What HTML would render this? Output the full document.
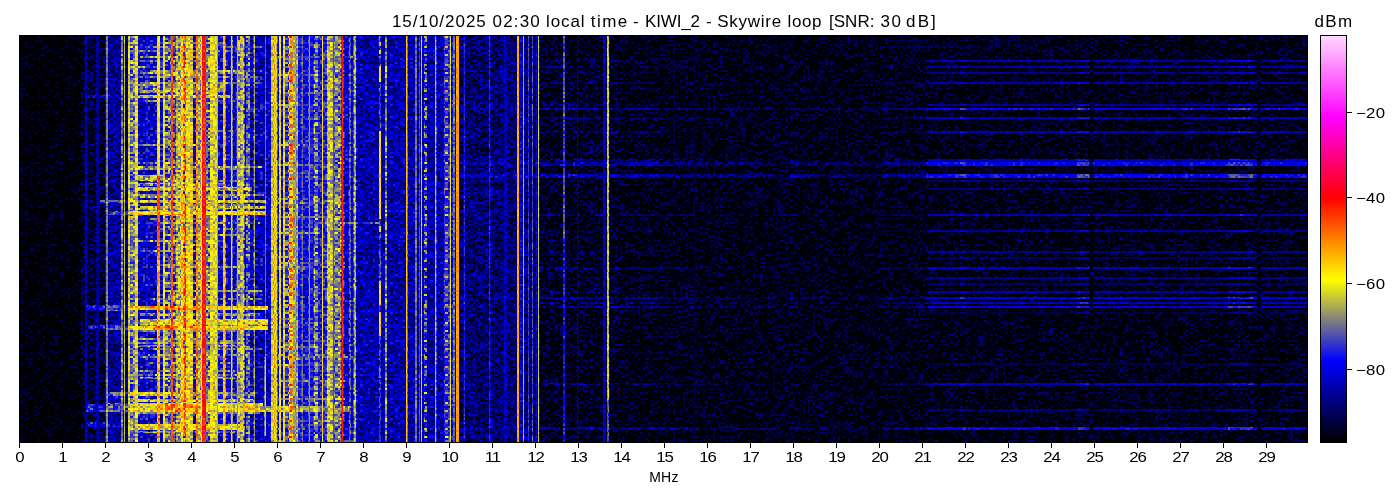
<!DOCTYPE html>
<html><head><meta charset="utf-8"><title>Spectrogram</title>
<style>
html,body{margin:0;padding:0;background:#fff;}
body{width:1400px;height:500px;position:relative;overflow:hidden;font-family:"Liberation Sans",sans-serif;color:#000;}
#ttl{will-change:transform;position:absolute;left:0;top:7px;width:1400px;height:30px;font-size:17px;line-height:30px;white-space:nowrap;}
#ttl span{position:absolute;top:0;}
#sp{position:absolute;left:0;top:0;}
#fr{position:absolute;left:19px;top:35px;width:1287px;height:406px;border:1px solid #000;box-sizing:content-box;}
.tk{position:absolute;top:443px;width:1px;height:4.5px;background:#000;}
.tl{position:absolute;top:449px;width:40px;text-align:center;font-size:14px;line-height:16px;transform:scaleX(1.2);}
.t2{letter-spacing:-1px;text-indent:-1px;}
#xl{will-change:transform;position:absolute;left:614px;width:100px;top:469px;text-align:center;font-size:14px;line-height:16px;letter-spacing:0.3px;}
#cb{position:absolute;left:1320px;top:35px;width:25px;height:406px;border:1px solid #000;background:linear-gradient(to top,#000 0%,#00f 20%,#ff0 40%,#f00 60%,#f0f 80%,#ffd8ff 100%);}
.ck{position:absolute;left:1347px;width:5px;height:1px;background:#000;}
.cl{position:absolute;left:1356px;font-size:14px;line-height:16px;letter-spacing:0.2px;transform:scaleX(1.2);transform-origin:0 0;}
#cu{will-change:transform;position:absolute;left:1304px;width:60px;top:12px;text-align:center;font-size:17px;line-height:20px;letter-spacing:1.35px;}
.b{mix-blend-mode:lighten;}
</style></head><body>
<svg id="sp" width="1400" height="500">
<defs>
<filter id="cm" x="20" y="36" width="1288" height="407" filterUnits="userSpaceOnUse" primitiveUnits="userSpaceOnUse" color-interpolation-filters="sRGB">
<feTurbulence type="fractalNoise" baseFrequency="0.83 0.77" numOctaves="1" seed="3" result="t0"/>
<feColorMatrix in="t0" type="matrix" values="2.6 0 0 0 -0.8  2.6 0 0 0 -0.8  2.6 0 0 0 -0.8  0 0 0 0 1" result="t"/>
<feFlood x="20" y="36" width="1" height="1" flood-color="#000" result="da"/>
<feComposite in="da" in2="da" operator="over" x="20" y="36" width="5" height="2" result="ca"/>
<feTile in="ca" result="dotsA"/>
<feFlood x="23" y="36" width="1" height="1" flood-color="#000" result="db"/>
<feComposite in="db" in2="db" operator="over" x="20" y="36" width="5" height="2" result="cb"/>
<feTile in="cb" result="dotsB"/>
<feComposite in="t" in2="dotsA" operator="in" result="sa"/>
<feComposite in="t" in2="dotsB" operator="in" result="sb"/>
<feOffset in="sa" dx="1" dy="0" result="sa1"/>
<feOffset in="sa" dx="2" dy="0" result="sa2"/>
<feOffset in="sb" dx="1" dy="0" result="sb1"/>
<feMerge result="row"><feMergeNode in="sa"/><feMergeNode in="sa1"/><feMergeNode in="sa2"/><feMergeNode in="sb"/><feMergeNode in="sb1"/></feMerge>
<feOffset in="row" dx="0" dy="1" result="row1"/>
<feMerge result="n"><feMergeNode in="row"/><feMergeNode in="row1"/></feMerge>
<feColorMatrix in="SourceGraphic" type="matrix" values="1 0 0 0 0  1 0 0 0 0  1 0 0 0 0  0 0 0 0 1" result="L"/>
<feColorMatrix in="SourceGraphic" type="matrix" values="0 1 0 0 0  0 1 0 0 0  0 1 0 0 0  0 0 0 0 1" result="A"/>
<feComposite in="n" in2="A" operator="arithmetic" k1="1" k2="0" k3="0" k4="0" result="na"/>
<feComposite in="L" in2="na" operator="arithmetic" k1="0" k2="1" k3="1" k4="0" result="I0"/>
<feGaussianBlur in="I0" stdDeviation="0.6 0.45" result="I"/>
<feComponentTransfer in="I">
<feFuncR type="table" tableValues="0 0 0 1 1 1 1"/>
<feFuncG type="table" tableValues="0 0 0 1 0 0 1"/>
<feFuncB type="table" tableValues="0 0 1 0 0 1 1"/>
</feComponentTransfer>
</filter>
</defs>
<rect x="20" y="36" width="1288" height="407" fill="#000"/>
<g filter="url(#cm)" style="isolation:isolate">
<rect x="20" y="36" width="61" height="407" fill="rgb(21,36,0)"/>
<rect x="81" y="36" width="27" height="407" fill="rgb(30,40,0)"/>
<rect x="108" y="36" width="18" height="407" fill="rgb(49,36,0)"/>
<rect x="126" y="36" width="231" height="407" fill="rgb(60,36,0)"/>
<rect x="139" y="36" width="18" height="407" fill="rgb(56,40,0)"/>
<rect x="244.5" y="36" width="25.5" height="407" fill="rgb(54,40,0)"/>
<rect x="146.5" y="36" width="1" height="407" fill="rgb(89,18,0)"/>
<rect x="357" y="36" width="103" height="407" fill="rgb(53,36,0)"/>
<rect x="460" y="36" width="80" height="407" fill="rgb(42,36,0)"/>
<rect x="540" y="36" width="80" height="407" fill="rgb(27,38,0)"/>
<rect x="620" y="36" width="688" height="407" fill="rgb(26,36,0)"/>
<rect x="927" y="60" width="381" height="2" fill="rgb(62,16,0)"/>
<rect x="960" y="60" width="6" height="2" fill="rgb(70,16,0)"/>
<rect x="1077" y="60" width="12" height="2" fill="rgb(73,16,0)"/>
<rect x="1228" y="60" width="25" height="2" fill="rgb(73,16,0)"/>
<rect x="1176" y="60" width="4" height="2" fill="rgb(53,16,0)"/>
<rect x="1090" y="60" width="3" height="2" fill="rgb(35,16,0)"/>
<rect x="1257" y="60" width="4" height="2" fill="rgb(35,16,0)"/>
<rect x="882" y="60" width="45" height="2" fill="rgb(38,27,0)"/>
<rect x="840" y="60" width="42" height="2" fill="rgb(27,27,0)"/>
<rect x="700" y="60" width="140" height="2" fill="rgb(30,29,0)"/>
<rect x="780" y="60" width="18" height="2" fill="rgb(38,27,0)"/>
<rect x="620" y="60" width="80" height="2" fill="rgb(35,29,0)"/>
<rect x="627" y="60" width="33" height="2" fill="rgb(42,27,0)"/>
<rect class="b" x="360" y="60" width="260" height="2" fill="rgb(38,22,0)"/>
<rect x="927" y="66" width="381" height="2" fill="rgb(62,16,0)"/>
<rect x="960" y="66" width="6" height="2" fill="rgb(70,16,0)"/>
<rect x="1077" y="66" width="12" height="2" fill="rgb(73,16,0)"/>
<rect x="1228" y="66" width="25" height="2" fill="rgb(73,16,0)"/>
<rect x="1176" y="66" width="4" height="2" fill="rgb(53,16,0)"/>
<rect x="1090" y="66" width="3" height="2" fill="rgb(35,16,0)"/>
<rect x="1257" y="66" width="4" height="2" fill="rgb(35,16,0)"/>
<rect x="882" y="66" width="45" height="2" fill="rgb(38,27,0)"/>
<rect x="840" y="66" width="42" height="2" fill="rgb(27,27,0)"/>
<rect x="700" y="66" width="140" height="2" fill="rgb(30,29,0)"/>
<rect x="780" y="66" width="18" height="2" fill="rgb(38,27,0)"/>
<rect x="620" y="66" width="80" height="2" fill="rgb(35,29,0)"/>
<rect x="627" y="66" width="33" height="2" fill="rgb(42,27,0)"/>
<rect class="b" x="360" y="66" width="260" height="2" fill="rgb(38,22,0)"/>
<rect x="927" y="72" width="381" height="2" fill="rgb(57,16,0)"/>
<rect x="960" y="72" width="6" height="2" fill="rgb(66,16,0)"/>
<rect x="1077" y="72" width="12" height="2" fill="rgb(68,16,0)"/>
<rect x="1228" y="72" width="25" height="2" fill="rgb(68,16,0)"/>
<rect x="1176" y="72" width="4" height="2" fill="rgb(48,16,0)"/>
<rect x="1090" y="72" width="3" height="2" fill="rgb(30,16,0)"/>
<rect x="1257" y="72" width="4" height="2" fill="rgb(30,16,0)"/>
<rect x="882" y="72" width="45" height="2" fill="rgb(34,27,0)"/>
<rect x="840" y="72" width="42" height="2" fill="rgb(22,27,0)"/>
<rect x="700" y="72" width="140" height="2" fill="rgb(26,29,0)"/>
<rect x="780" y="72" width="18" height="2" fill="rgb(34,27,0)"/>
<rect x="620" y="72" width="80" height="2" fill="rgb(30,29,0)"/>
<rect x="627" y="72" width="33" height="2" fill="rgb(38,27,0)"/>
<rect class="b" x="360" y="72" width="260" height="2" fill="rgb(34,22,0)"/>
<rect x="927" y="82" width="381" height="2" fill="rgb(62,16,0)"/>
<rect x="960" y="82" width="6" height="2" fill="rgb(70,16,0)"/>
<rect x="1077" y="82" width="12" height="2" fill="rgb(73,16,0)"/>
<rect x="1228" y="82" width="25" height="2" fill="rgb(73,16,0)"/>
<rect x="1176" y="82" width="4" height="2" fill="rgb(53,16,0)"/>
<rect x="1090" y="82" width="3" height="2" fill="rgb(35,16,0)"/>
<rect x="1257" y="82" width="4" height="2" fill="rgb(35,16,0)"/>
<rect x="882" y="82" width="45" height="2" fill="rgb(38,27,0)"/>
<rect x="840" y="82" width="42" height="2" fill="rgb(27,27,0)"/>
<rect x="700" y="82" width="140" height="2" fill="rgb(30,29,0)"/>
<rect x="780" y="82" width="18" height="2" fill="rgb(38,27,0)"/>
<rect x="620" y="82" width="80" height="2" fill="rgb(35,29,0)"/>
<rect x="627" y="82" width="33" height="2" fill="rgb(42,27,0)"/>
<rect class="b" x="360" y="82" width="260" height="2" fill="rgb(38,22,0)"/>
<rect x="927" y="104" width="381" height="2" fill="rgb(59,16,0)"/>
<rect x="960" y="104" width="6" height="2" fill="rgb(68,16,0)"/>
<rect x="1077" y="104" width="12" height="2" fill="rgb(70,16,0)"/>
<rect x="1228" y="104" width="25" height="2" fill="rgb(70,16,0)"/>
<rect x="1176" y="104" width="4" height="2" fill="rgb(50,16,0)"/>
<rect x="1090" y="104" width="3" height="2" fill="rgb(32,16,0)"/>
<rect x="1257" y="104" width="4" height="2" fill="rgb(32,16,0)"/>
<rect x="882" y="104" width="45" height="2" fill="rgb(36,27,0)"/>
<rect x="840" y="104" width="42" height="2" fill="rgb(25,27,0)"/>
<rect x="700" y="104" width="140" height="2" fill="rgb(28,29,0)"/>
<rect x="780" y="104" width="18" height="2" fill="rgb(36,27,0)"/>
<rect x="620" y="104" width="80" height="2" fill="rgb(32,29,0)"/>
<rect x="627" y="104" width="33" height="2" fill="rgb(40,27,0)"/>
<rect class="b" x="360" y="104" width="260" height="2" fill="rgb(36,22,0)"/>
<rect x="927" y="108" width="381" height="2" fill="rgb(75,16,0)"/>
<rect x="960" y="108" width="6" height="2" fill="rgb(84,16,0)"/>
<rect x="1077" y="108" width="12" height="2" fill="rgb(86,16,0)"/>
<rect x="1228" y="108" width="25" height="2" fill="rgb(86,16,0)"/>
<rect x="1176" y="108" width="4" height="2" fill="rgb(66,16,0)"/>
<rect x="1090" y="108" width="3" height="2" fill="rgb(48,16,0)"/>
<rect x="1257" y="108" width="4" height="2" fill="rgb(48,16,0)"/>
<rect x="882" y="108" width="45" height="2" fill="rgb(51,27,0)"/>
<rect x="840" y="108" width="42" height="2" fill="rgb(40,27,0)"/>
<rect x="700" y="108" width="140" height="2" fill="rgb(44,29,0)"/>
<rect x="780" y="108" width="18" height="2" fill="rgb(51,27,0)"/>
<rect x="620" y="108" width="80" height="2" fill="rgb(48,29,0)"/>
<rect x="627" y="108" width="33" height="2" fill="rgb(56,27,0)"/>
<rect class="b" x="360" y="108" width="260" height="2" fill="rgb(51,22,0)"/>
<rect x="927" y="117" width="381" height="2" fill="rgb(66,16,0)"/>
<rect x="960" y="117" width="6" height="2" fill="rgb(75,16,0)"/>
<rect x="1077" y="117" width="12" height="2" fill="rgb(77,16,0)"/>
<rect x="1228" y="117" width="25" height="2" fill="rgb(77,16,0)"/>
<rect x="1176" y="117" width="4" height="2" fill="rgb(57,16,0)"/>
<rect x="1090" y="117" width="3" height="2" fill="rgb(39,16,0)"/>
<rect x="1257" y="117" width="4" height="2" fill="rgb(39,16,0)"/>
<rect x="882" y="117" width="45" height="2" fill="rgb(42,27,0)"/>
<rect x="840" y="117" width="42" height="2" fill="rgb(31,27,0)"/>
<rect x="700" y="117" width="140" height="2" fill="rgb(35,29,0)"/>
<rect x="780" y="117" width="18" height="2" fill="rgb(42,27,0)"/>
<rect x="620" y="117" width="80" height="2" fill="rgb(39,29,0)"/>
<rect x="627" y="117" width="33" height="2" fill="rgb(47,27,0)"/>
<rect class="b" x="360" y="117" width="260" height="2" fill="rgb(42,22,0)"/>
<rect x="927" y="131" width="381" height="2" fill="rgb(64,16,0)"/>
<rect x="960" y="131" width="6" height="2" fill="rgb(73,16,0)"/>
<rect x="1077" y="131" width="12" height="2" fill="rgb(75,16,0)"/>
<rect x="1228" y="131" width="25" height="2" fill="rgb(75,16,0)"/>
<rect x="1176" y="131" width="4" height="2" fill="rgb(55,16,0)"/>
<rect x="1090" y="131" width="3" height="2" fill="rgb(37,16,0)"/>
<rect x="1257" y="131" width="4" height="2" fill="rgb(37,16,0)"/>
<rect x="882" y="131" width="45" height="2" fill="rgb(40,27,0)"/>
<rect x="840" y="131" width="42" height="2" fill="rgb(29,27,0)"/>
<rect x="700" y="131" width="140" height="2" fill="rgb(32,29,0)"/>
<rect x="780" y="131" width="18" height="2" fill="rgb(40,27,0)"/>
<rect x="620" y="131" width="80" height="2" fill="rgb(37,29,0)"/>
<rect x="627" y="131" width="33" height="2" fill="rgb(45,27,0)"/>
<rect class="b" x="360" y="131" width="260" height="2" fill="rgb(40,22,0)"/>
<rect x="927" y="159" width="381" height="2" fill="rgb(66,16,0)"/>
<rect x="960" y="159" width="6" height="2" fill="rgb(75,16,0)"/>
<rect x="1077" y="159" width="12" height="2" fill="rgb(77,16,0)"/>
<rect x="1228" y="159" width="25" height="2" fill="rgb(77,16,0)"/>
<rect x="1176" y="159" width="4" height="2" fill="rgb(57,16,0)"/>
<rect x="1090" y="159" width="3" height="2" fill="rgb(39,16,0)"/>
<rect x="1257" y="159" width="4" height="2" fill="rgb(39,16,0)"/>
<rect x="882" y="159" width="45" height="2" fill="rgb(42,27,0)"/>
<rect x="840" y="159" width="42" height="2" fill="rgb(31,27,0)"/>
<rect x="700" y="159" width="140" height="2" fill="rgb(35,29,0)"/>
<rect x="780" y="159" width="18" height="2" fill="rgb(42,27,0)"/>
<rect x="620" y="159" width="80" height="2" fill="rgb(39,29,0)"/>
<rect x="627" y="159" width="33" height="2" fill="rgb(47,27,0)"/>
<rect class="b" x="360" y="159" width="260" height="2" fill="rgb(42,22,0)"/>
<rect x="927" y="162" width="381" height="4" fill="rgb(75,16,0)"/>
<rect x="960" y="162" width="6" height="4" fill="rgb(84,16,0)"/>
<rect x="1077" y="162" width="12" height="4" fill="rgb(86,16,0)"/>
<rect x="1228" y="162" width="25" height="4" fill="rgb(86,16,0)"/>
<rect x="1176" y="162" width="4" height="4" fill="rgb(66,16,0)"/>
<rect x="1090" y="162" width="3" height="4" fill="rgb(48,16,0)"/>
<rect x="1257" y="162" width="4" height="4" fill="rgb(48,16,0)"/>
<rect x="882" y="162" width="45" height="4" fill="rgb(51,27,0)"/>
<rect x="840" y="162" width="42" height="4" fill="rgb(40,27,0)"/>
<rect x="700" y="162" width="140" height="4" fill="rgb(44,29,0)"/>
<rect x="780" y="162" width="18" height="4" fill="rgb(51,27,0)"/>
<rect x="620" y="162" width="80" height="4" fill="rgb(48,29,0)"/>
<rect x="627" y="162" width="33" height="4" fill="rgb(56,27,0)"/>
<rect class="b" x="360" y="162" width="260" height="4" fill="rgb(51,22,0)"/>
<rect x="927" y="174" width="381" height="4" fill="rgb(77,16,0)"/>
<rect x="960" y="174" width="6" height="4" fill="rgb(86,16,0)"/>
<rect x="1077" y="174" width="12" height="4" fill="rgb(88,16,0)"/>
<rect x="1228" y="174" width="25" height="4" fill="rgb(88,16,0)"/>
<rect x="1176" y="174" width="4" height="4" fill="rgb(68,16,0)"/>
<rect x="1090" y="174" width="3" height="4" fill="rgb(50,16,0)"/>
<rect x="1257" y="174" width="4" height="4" fill="rgb(50,16,0)"/>
<rect x="882" y="174" width="45" height="4" fill="rgb(54,27,0)"/>
<rect x="840" y="174" width="42" height="4" fill="rgb(42,27,0)"/>
<rect x="700" y="174" width="140" height="4" fill="rgb(46,29,0)"/>
<rect x="780" y="174" width="18" height="4" fill="rgb(54,27,0)"/>
<rect x="620" y="174" width="80" height="4" fill="rgb(50,29,0)"/>
<rect x="627" y="174" width="33" height="4" fill="rgb(58,27,0)"/>
<rect class="b" x="360" y="174" width="260" height="4" fill="rgb(54,22,0)"/>
<rect x="927" y="180" width="381" height="2" fill="rgb(53,16,0)"/>
<rect x="960" y="180" width="6" height="2" fill="rgb(62,16,0)"/>
<rect x="1077" y="180" width="12" height="2" fill="rgb(64,16,0)"/>
<rect x="1228" y="180" width="25" height="2" fill="rgb(64,16,0)"/>
<rect x="1176" y="180" width="4" height="2" fill="rgb(44,16,0)"/>
<rect x="1090" y="180" width="3" height="2" fill="rgb(26,16,0)"/>
<rect x="1257" y="180" width="4" height="2" fill="rgb(26,16,0)"/>
<rect x="927" y="188" width="381" height="2" fill="rgb(53,16,0)"/>
<rect x="960" y="188" width="6" height="2" fill="rgb(62,16,0)"/>
<rect x="1077" y="188" width="12" height="2" fill="rgb(64,16,0)"/>
<rect x="1228" y="188" width="25" height="2" fill="rgb(64,16,0)"/>
<rect x="1176" y="188" width="4" height="2" fill="rgb(44,16,0)"/>
<rect x="1090" y="188" width="3" height="2" fill="rgb(26,16,0)"/>
<rect x="1257" y="188" width="4" height="2" fill="rgb(26,16,0)"/>
<rect x="927" y="214" width="381" height="2" fill="rgb(64,16,0)"/>
<rect x="960" y="214" width="6" height="2" fill="rgb(73,16,0)"/>
<rect x="1077" y="214" width="12" height="2" fill="rgb(75,16,0)"/>
<rect x="1228" y="214" width="25" height="2" fill="rgb(75,16,0)"/>
<rect x="1176" y="214" width="4" height="2" fill="rgb(55,16,0)"/>
<rect x="1090" y="214" width="3" height="2" fill="rgb(37,16,0)"/>
<rect x="1257" y="214" width="4" height="2" fill="rgb(37,16,0)"/>
<rect x="882" y="214" width="45" height="2" fill="rgb(40,27,0)"/>
<rect x="840" y="214" width="42" height="2" fill="rgb(29,27,0)"/>
<rect x="700" y="214" width="140" height="2" fill="rgb(32,29,0)"/>
<rect x="780" y="214" width="18" height="2" fill="rgb(40,27,0)"/>
<rect x="620" y="214" width="80" height="2" fill="rgb(37,29,0)"/>
<rect x="627" y="214" width="33" height="2" fill="rgb(45,27,0)"/>
<rect class="b" x="360" y="214" width="260" height="2" fill="rgb(40,22,0)"/>
<rect x="927" y="230" width="381" height="2" fill="rgb(59,16,0)"/>
<rect x="960" y="230" width="6" height="2" fill="rgb(68,16,0)"/>
<rect x="1077" y="230" width="12" height="2" fill="rgb(70,16,0)"/>
<rect x="1228" y="230" width="25" height="2" fill="rgb(70,16,0)"/>
<rect x="1176" y="230" width="4" height="2" fill="rgb(50,16,0)"/>
<rect x="1090" y="230" width="3" height="2" fill="rgb(32,16,0)"/>
<rect x="1257" y="230" width="4" height="2" fill="rgb(32,16,0)"/>
<rect x="882" y="230" width="45" height="2" fill="rgb(36,27,0)"/>
<rect x="840" y="230" width="42" height="2" fill="rgb(25,27,0)"/>
<rect x="700" y="230" width="140" height="2" fill="rgb(28,29,0)"/>
<rect x="780" y="230" width="18" height="2" fill="rgb(36,27,0)"/>
<rect x="620" y="230" width="80" height="2" fill="rgb(32,29,0)"/>
<rect x="627" y="230" width="33" height="2" fill="rgb(40,27,0)"/>
<rect class="b" x="360" y="230" width="260" height="2" fill="rgb(36,22,0)"/>
<rect x="927" y="251" width="381" height="2" fill="rgb(57,16,0)"/>
<rect x="960" y="251" width="6" height="2" fill="rgb(66,16,0)"/>
<rect x="1077" y="251" width="12" height="2" fill="rgb(68,16,0)"/>
<rect x="1228" y="251" width="25" height="2" fill="rgb(68,16,0)"/>
<rect x="1176" y="251" width="4" height="2" fill="rgb(48,16,0)"/>
<rect x="1090" y="251" width="3" height="2" fill="rgb(30,16,0)"/>
<rect x="1257" y="251" width="4" height="2" fill="rgb(30,16,0)"/>
<rect x="882" y="251" width="45" height="2" fill="rgb(34,27,0)"/>
<rect x="840" y="251" width="42" height="2" fill="rgb(22,27,0)"/>
<rect x="700" y="251" width="140" height="2" fill="rgb(26,29,0)"/>
<rect x="780" y="251" width="18" height="2" fill="rgb(34,27,0)"/>
<rect x="620" y="251" width="80" height="2" fill="rgb(30,29,0)"/>
<rect x="627" y="251" width="33" height="2" fill="rgb(38,27,0)"/>
<rect class="b" x="360" y="251" width="260" height="2" fill="rgb(34,22,0)"/>
<rect x="927" y="257" width="381" height="2" fill="rgb(50,16,0)"/>
<rect x="960" y="257" width="6" height="2" fill="rgb(59,16,0)"/>
<rect x="1077" y="257" width="12" height="2" fill="rgb(62,16,0)"/>
<rect x="1228" y="257" width="25" height="2" fill="rgb(62,16,0)"/>
<rect x="1176" y="257" width="4" height="2" fill="rgb(41,16,0)"/>
<rect x="1090" y="257" width="3" height="2" fill="rgb(23,16,0)"/>
<rect x="1257" y="257" width="4" height="2" fill="rgb(23,16,0)"/>
<rect x="927" y="267" width="381" height="2" fill="rgb(66,16,0)"/>
<rect x="960" y="267" width="6" height="2" fill="rgb(75,16,0)"/>
<rect x="1077" y="267" width="12" height="2" fill="rgb(77,16,0)"/>
<rect x="1228" y="267" width="25" height="2" fill="rgb(77,16,0)"/>
<rect x="1176" y="267" width="4" height="2" fill="rgb(57,16,0)"/>
<rect x="1090" y="267" width="3" height="2" fill="rgb(39,16,0)"/>
<rect x="1257" y="267" width="4" height="2" fill="rgb(39,16,0)"/>
<rect x="882" y="267" width="45" height="2" fill="rgb(42,27,0)"/>
<rect x="840" y="267" width="42" height="2" fill="rgb(31,27,0)"/>
<rect x="700" y="267" width="140" height="2" fill="rgb(35,29,0)"/>
<rect x="780" y="267" width="18" height="2" fill="rgb(42,27,0)"/>
<rect x="620" y="267" width="80" height="2" fill="rgb(39,29,0)"/>
<rect x="627" y="267" width="33" height="2" fill="rgb(47,27,0)"/>
<rect class="b" x="360" y="267" width="260" height="2" fill="rgb(42,22,0)"/>
<rect x="927" y="277" width="381" height="2" fill="rgb(57,16,0)"/>
<rect x="960" y="277" width="6" height="2" fill="rgb(66,16,0)"/>
<rect x="1077" y="277" width="12" height="2" fill="rgb(68,16,0)"/>
<rect x="1228" y="277" width="25" height="2" fill="rgb(68,16,0)"/>
<rect x="1176" y="277" width="4" height="2" fill="rgb(48,16,0)"/>
<rect x="1090" y="277" width="3" height="2" fill="rgb(30,16,0)"/>
<rect x="1257" y="277" width="4" height="2" fill="rgb(30,16,0)"/>
<rect x="882" y="277" width="45" height="2" fill="rgb(34,27,0)"/>
<rect x="840" y="277" width="42" height="2" fill="rgb(22,27,0)"/>
<rect x="700" y="277" width="140" height="2" fill="rgb(26,29,0)"/>
<rect x="780" y="277" width="18" height="2" fill="rgb(34,27,0)"/>
<rect x="620" y="277" width="80" height="2" fill="rgb(30,29,0)"/>
<rect x="627" y="277" width="33" height="2" fill="rgb(38,27,0)"/>
<rect class="b" x="360" y="277" width="260" height="2" fill="rgb(34,22,0)"/>
<rect x="927" y="283" width="381" height="2" fill="rgb(50,16,0)"/>
<rect x="960" y="283" width="6" height="2" fill="rgb(59,16,0)"/>
<rect x="1077" y="283" width="12" height="2" fill="rgb(62,16,0)"/>
<rect x="1228" y="283" width="25" height="2" fill="rgb(62,16,0)"/>
<rect x="1176" y="283" width="4" height="2" fill="rgb(41,16,0)"/>
<rect x="1090" y="283" width="3" height="2" fill="rgb(23,16,0)"/>
<rect x="1257" y="283" width="4" height="2" fill="rgb(23,16,0)"/>
<rect x="927" y="291" width="381" height="2" fill="rgb(62,16,0)"/>
<rect x="960" y="291" width="6" height="2" fill="rgb(70,16,0)"/>
<rect x="1077" y="291" width="12" height="2" fill="rgb(73,16,0)"/>
<rect x="1228" y="291" width="25" height="2" fill="rgb(73,16,0)"/>
<rect x="1176" y="291" width="4" height="2" fill="rgb(53,16,0)"/>
<rect x="1090" y="291" width="3" height="2" fill="rgb(35,16,0)"/>
<rect x="1257" y="291" width="4" height="2" fill="rgb(35,16,0)"/>
<rect x="882" y="291" width="45" height="2" fill="rgb(38,27,0)"/>
<rect x="840" y="291" width="42" height="2" fill="rgb(27,27,0)"/>
<rect x="700" y="291" width="140" height="2" fill="rgb(30,29,0)"/>
<rect x="780" y="291" width="18" height="2" fill="rgb(38,27,0)"/>
<rect x="620" y="291" width="80" height="2" fill="rgb(35,29,0)"/>
<rect x="627" y="291" width="33" height="2" fill="rgb(42,27,0)"/>
<rect class="b" x="360" y="291" width="260" height="2" fill="rgb(38,22,0)"/>
<rect x="927" y="297" width="381" height="2" fill="rgb(70,16,0)"/>
<rect x="960" y="297" width="6" height="2" fill="rgb(79,16,0)"/>
<rect x="1077" y="297" width="12" height="2" fill="rgb(82,16,0)"/>
<rect x="1228" y="297" width="25" height="2" fill="rgb(82,16,0)"/>
<rect x="1176" y="297" width="4" height="2" fill="rgb(62,16,0)"/>
<rect x="1090" y="297" width="3" height="2" fill="rgb(44,16,0)"/>
<rect x="1257" y="297" width="4" height="2" fill="rgb(44,16,0)"/>
<rect x="882" y="297" width="45" height="2" fill="rgb(47,27,0)"/>
<rect x="840" y="297" width="42" height="2" fill="rgb(36,27,0)"/>
<rect x="700" y="297" width="140" height="2" fill="rgb(39,29,0)"/>
<rect x="780" y="297" width="18" height="2" fill="rgb(47,27,0)"/>
<rect x="620" y="297" width="80" height="2" fill="rgb(44,29,0)"/>
<rect x="627" y="297" width="33" height="2" fill="rgb(51,27,0)"/>
<rect class="b" x="360" y="297" width="260" height="2" fill="rgb(47,22,0)"/>
<rect x="927" y="302" width="381" height="2" fill="rgb(66,16,0)"/>
<rect x="960" y="302" width="6" height="2" fill="rgb(75,16,0)"/>
<rect x="1077" y="302" width="12" height="2" fill="rgb(77,16,0)"/>
<rect x="1228" y="302" width="25" height="2" fill="rgb(77,16,0)"/>
<rect x="1176" y="302" width="4" height="2" fill="rgb(57,16,0)"/>
<rect x="1090" y="302" width="3" height="2" fill="rgb(39,16,0)"/>
<rect x="1257" y="302" width="4" height="2" fill="rgb(39,16,0)"/>
<rect x="882" y="302" width="45" height="2" fill="rgb(42,27,0)"/>
<rect x="840" y="302" width="42" height="2" fill="rgb(31,27,0)"/>
<rect x="700" y="302" width="140" height="2" fill="rgb(35,29,0)"/>
<rect x="780" y="302" width="18" height="2" fill="rgb(42,27,0)"/>
<rect x="620" y="302" width="80" height="2" fill="rgb(39,29,0)"/>
<rect x="627" y="302" width="33" height="2" fill="rgb(47,27,0)"/>
<rect class="b" x="360" y="302" width="260" height="2" fill="rgb(42,22,0)"/>
<rect x="927" y="306" width="381" height="2" fill="rgb(70,16,0)"/>
<rect x="960" y="306" width="6" height="2" fill="rgb(79,16,0)"/>
<rect x="1077" y="306" width="12" height="2" fill="rgb(82,16,0)"/>
<rect x="1228" y="306" width="25" height="2" fill="rgb(82,16,0)"/>
<rect x="1176" y="306" width="4" height="2" fill="rgb(62,16,0)"/>
<rect x="1090" y="306" width="3" height="2" fill="rgb(44,16,0)"/>
<rect x="1257" y="306" width="4" height="2" fill="rgb(44,16,0)"/>
<rect x="882" y="306" width="45" height="2" fill="rgb(47,27,0)"/>
<rect x="840" y="306" width="42" height="2" fill="rgb(36,27,0)"/>
<rect x="700" y="306" width="140" height="2" fill="rgb(39,29,0)"/>
<rect x="780" y="306" width="18" height="2" fill="rgb(47,27,0)"/>
<rect x="620" y="306" width="80" height="2" fill="rgb(44,29,0)"/>
<rect x="627" y="306" width="33" height="2" fill="rgb(51,27,0)"/>
<rect class="b" x="360" y="306" width="260" height="2" fill="rgb(47,22,0)"/>
<rect x="927" y="312" width="381" height="2" fill="rgb(46,16,0)"/>
<rect x="960" y="312" width="6" height="2" fill="rgb(55,16,0)"/>
<rect x="1077" y="312" width="12" height="2" fill="rgb(57,16,0)"/>
<rect x="1228" y="312" width="25" height="2" fill="rgb(57,16,0)"/>
<rect x="1176" y="312" width="4" height="2" fill="rgb(37,16,0)"/>
<rect x="1090" y="312" width="3" height="2" fill="rgb(19,16,0)"/>
<rect x="1257" y="312" width="4" height="2" fill="rgb(19,16,0)"/>
<rect x="927" y="363" width="381" height="2" fill="rgb(46,16,0)"/>
<rect x="960" y="363" width="6" height="2" fill="rgb(55,16,0)"/>
<rect x="1077" y="363" width="12" height="2" fill="rgb(57,16,0)"/>
<rect x="1228" y="363" width="25" height="2" fill="rgb(57,16,0)"/>
<rect x="1176" y="363" width="4" height="2" fill="rgb(37,16,0)"/>
<rect x="1090" y="363" width="3" height="2" fill="rgb(19,16,0)"/>
<rect x="1257" y="363" width="4" height="2" fill="rgb(19,16,0)"/>
<rect x="927" y="383" width="381" height="2" fill="rgb(66,16,0)"/>
<rect x="960" y="383" width="6" height="2" fill="rgb(75,16,0)"/>
<rect x="1077" y="383" width="12" height="2" fill="rgb(77,16,0)"/>
<rect x="1228" y="383" width="25" height="2" fill="rgb(77,16,0)"/>
<rect x="1176" y="383" width="4" height="2" fill="rgb(57,16,0)"/>
<rect x="1090" y="383" width="3" height="2" fill="rgb(39,16,0)"/>
<rect x="1257" y="383" width="4" height="2" fill="rgb(39,16,0)"/>
<rect x="882" y="383" width="45" height="2" fill="rgb(42,27,0)"/>
<rect x="840" y="383" width="42" height="2" fill="rgb(31,27,0)"/>
<rect x="700" y="383" width="140" height="2" fill="rgb(35,29,0)"/>
<rect x="780" y="383" width="18" height="2" fill="rgb(42,27,0)"/>
<rect x="620" y="383" width="80" height="2" fill="rgb(39,29,0)"/>
<rect x="627" y="383" width="33" height="2" fill="rgb(47,27,0)"/>
<rect class="b" x="360" y="383" width="260" height="2" fill="rgb(42,22,0)"/>
<rect x="927" y="409" width="381" height="2" fill="rgb(53,16,0)"/>
<rect x="960" y="409" width="6" height="2" fill="rgb(62,16,0)"/>
<rect x="1077" y="409" width="12" height="2" fill="rgb(64,16,0)"/>
<rect x="1228" y="409" width="25" height="2" fill="rgb(64,16,0)"/>
<rect x="1176" y="409" width="4" height="2" fill="rgb(44,16,0)"/>
<rect x="1090" y="409" width="3" height="2" fill="rgb(26,16,0)"/>
<rect x="1257" y="409" width="4" height="2" fill="rgb(26,16,0)"/>
<rect x="927" y="427" width="381" height="3" fill="rgb(73,16,0)"/>
<rect x="960" y="427" width="6" height="3" fill="rgb(82,16,0)"/>
<rect x="1077" y="427" width="12" height="3" fill="rgb(84,16,0)"/>
<rect x="1228" y="427" width="25" height="3" fill="rgb(84,16,0)"/>
<rect x="1176" y="427" width="4" height="3" fill="rgb(64,16,0)"/>
<rect x="1090" y="427" width="3" height="3" fill="rgb(46,16,0)"/>
<rect x="1257" y="427" width="4" height="3" fill="rgb(46,16,0)"/>
<rect x="882" y="427" width="45" height="3" fill="rgb(49,27,0)"/>
<rect x="840" y="427" width="42" height="3" fill="rgb(38,27,0)"/>
<rect x="700" y="427" width="140" height="3" fill="rgb(41,29,0)"/>
<rect x="780" y="427" width="18" height="3" fill="rgb(49,27,0)"/>
<rect x="620" y="427" width="80" height="3" fill="rgb(46,29,0)"/>
<rect x="627" y="427" width="33" height="3" fill="rgb(54,27,0)"/>
<rect class="b" x="360" y="427" width="260" height="3" fill="rgb(49,22,0)"/>
<rect x="890" y="39" width="150" height="2" fill="rgb(42,22,0)"/>
<rect x="890" y="46" width="150" height="2" fill="rgb(42,22,0)"/>
<rect x="85" y="36" width="2" height="407" fill="rgb(63,18,0)"/>
<rect x="96" y="36" width="3" height="407" fill="rgb(56,22,0)"/>
<rect x="105.5" y="36" width="2.5" height="407" fill="rgb(96,18,0)"/>
<rect x="121" y="36" width="2" height="407" fill="rgb(92,27,0)"/>
<rect x="123.7" y="36" width="1.3" height="407" fill="rgb(111,11,0)"/>
<rect x="125" y="36" width="3" height="407" fill="rgb(47,27,0)"/>
<rect x="128" y="36" width="2.5" height="407" fill="rgb(107,31,0)"/>
<rect x="130.5" y="36" width="4" height="407" fill="rgb(83,44,0)"/>
<rect x="134.5" y="36" width="3.5" height="407" fill="rgb(104,38,0)"/>
<rect x="157" y="36" width="3" height="140" fill="rgb(115,25,0)"/>
<rect x="157" y="176" width="3" height="76" fill="rgb(141,31,0)"/>
<rect x="157" y="252" width="3" height="191" fill="rgb(114,50,0)"/>
<rect x="163" y="36" width="2" height="407" fill="rgb(110,31,0)"/>
<rect x="165" y="36" width="6" height="407" fill="rgb(73,50,0)"/>
<rect x="171" y="36" width="2" height="407" fill="rgb(144,25,0)"/>
<rect x="173" y="36" width="3" height="407" fill="rgb(72,44,0)"/>
<rect x="176" y="36" width="5" height="407" fill="rgb(94,44,0)"/>
<rect x="181" y="36" width="2.5" height="407" fill="rgb(121,31,0)"/>
<rect x="183.5" y="36" width="2.5" height="407" fill="rgb(77,106,0)"/>
<rect x="186" y="36" width="7" height="407" fill="rgb(106,38,0)"/>
<rect x="196" y="36" width="2.5" height="407" fill="rgb(132,31,0)"/>
<rect x="198.5" y="36" width="3" height="407" fill="rgb(92,44,0)"/>
<rect x="201.5" y="36" width="4.5" height="407" fill="rgb(153,25,0)"/>
<rect x="206" y="36" width="4" height="407" fill="rgb(81,44,0)"/>
<rect x="210" y="36" width="6.5" height="407" fill="rgb(107,31,0)"/>
<rect x="216.5" y="36" width="1.5" height="407" fill="rgb(134,18,0)"/>
<rect x="223" y="36" width="2.5" height="407" fill="rgb(121,31,0)"/>
<rect x="231" y="36" width="1.5" height="407" fill="rgb(123,18,0)"/>
<rect x="236.8" y="36" width="1.2" height="407" fill="rgb(134,18,0)"/>
<rect x="238" y="36" width="3" height="407" fill="rgb(90,44,0)"/>
<rect x="241" y="36" width="3.5" height="407" fill="rgb(97,44,0)"/>
<rect x="246" y="36" width="4" height="407" fill="rgb(77,44,0)"/>
<rect x="253.5" y="36" width="1.5" height="407" fill="rgb(101,22,0)"/>
<rect x="265" y="36" width="1" height="321" fill="rgb(94,18,0)"/>
<rect x="264.5" y="357" width="1.5" height="79" fill="rgb(130,13,0)"/>
<rect x="271" y="36" width="3" height="407" fill="rgb(103,31,0)"/>
<rect x="274" y="36" width="2" height="407" fill="rgb(121,31,0)"/>
<rect x="276" y="36" width="1.5" height="407" fill="rgb(110,22,0)"/>
<rect x="279" y="36" width="2" height="407" fill="rgb(113,25,0)"/>
<rect x="283" y="36" width="2" height="407" fill="rgb(113,25,0)"/>
<rect x="285" y="36" width="4" height="407" fill="rgb(72,44,0)"/>
<rect x="289" y="36" width="4" height="407" fill="rgb(107,50,0)"/>
<rect x="293" y="36" width="2" height="407" fill="rgb(96,31,0)"/>
<rect x="295" y="36" width="1.2" height="407" fill="rgb(139,18,0)"/>
<rect x="296.2" y="36" width="1.8" height="407" fill="rgb(103,22,0)"/>
<rect x="298" y="36" width="10.5" height="407" fill="rgb(69,31,0)"/>
<rect x="301.5" y="36" width="1.5" height="407" fill="rgb(92,22,0)"/>
<rect x="308.8" y="36" width="1.2" height="407" fill="rgb(139,18,0)"/>
<rect x="310" y="36" width="4" height="407" fill="rgb(72,31,0)"/>
<rect x="314" y="36" width="4" height="407" fill="rgb(83,44,0)"/>
<rect x="318" y="36" width="4" height="407" fill="rgb(72,31,0)"/>
<rect x="322" y="36" width="1" height="407" fill="rgb(121,18,0)"/>
<rect x="323" y="36" width="4" height="407" fill="rgb(74,31,0)"/>
<rect x="327" y="36" width="5.5" height="407" fill="rgb(100,38,0)"/>
<rect x="332.8" y="36" width="1.4" height="407" fill="rgb(174,18,0)"/>
<rect x="334.5" y="36" width="6.5" height="407" fill="rgb(85,44,0)"/>
<rect x="341.8" y="36" width="1.4" height="407" fill="rgb(157,18,0)"/>
<rect x="349" y="36" width="2" height="407" fill="rgb(83,31,0)"/>
<rect x="353.5" y="36" width="2.5" height="407" fill="rgb(98,31,0)"/>
<rect x="379" y="36" width="2" height="407" fill="rgb(78,31,0)"/>
<rect x="379" y="42" width="2" height="4" fill="rgb(121,22,0)"/>
<rect x="379" y="50" width="2" height="4" fill="rgb(121,22,0)"/>
<rect x="379" y="66" width="2" height="16" fill="rgb(121,22,0)"/>
<rect x="379" y="131" width="2" height="88" fill="rgb(121,22,0)"/>
<rect x="379" y="226" width="2" height="6" fill="rgb(121,22,0)"/>
<rect x="379" y="281" width="2" height="24" fill="rgb(121,22,0)"/>
<rect x="379" y="312" width="2" height="24" fill="rgb(121,22,0)"/>
<rect x="385" y="36" width="2" height="407" fill="rgb(89,36,0)"/>
<rect x="406" y="36" width="1.5" height="407" fill="rgb(130,13,0)"/>
<rect x="415" y="36" width="2" height="407" fill="rgb(94,18,0)"/>
<rect x="419" y="36" width="1" height="407" fill="rgb(89,18,0)"/>
<rect x="421" y="36" width="1" height="407" fill="rgb(115,11,0)"/>
<rect x="424" y="36" width="3" height="407" fill="rgb(58,54,0)"/>
<rect x="435" y="36" width="1.5" height="407" fill="rgb(107,18,0)"/>
<rect x="444" y="36" width="5" height="407" fill="rgb(78,27,0)"/>
<rect x="449.5" y="36" width="1.5" height="407" fill="rgb(119,13,0)"/>
<rect x="452.5" y="36" width="2.5" height="407" fill="rgb(92,22,0)"/>
<rect x="456" y="36" width="3" height="407" fill="rgb(138,11,0)"/>
<rect x="463.5" y="36" width="1.5" height="407" fill="rgb(78,22,0)"/>
<rect x="489" y="36" width="1.5" height="407" fill="rgb(78,22,0)"/>
<rect x="504" y="36" width="3" height="407" fill="rgb(58,27,0)"/>
<rect x="517" y="36" width="2" height="407" fill="rgb(133,16,0)"/>
<rect x="519" y="36" width="3.5" height="407" fill="rgb(69,22,0)"/>
<rect x="523" y="36" width="1.2" height="407" fill="rgb(105,22,0)"/>
<rect x="528" y="36" width="1" height="407" fill="rgb(83,22,0)"/>
<rect x="532" y="36" width="1" height="407" fill="rgb(87,22,0)"/>
<rect x="536" y="36" width="1" height="407" fill="rgb(69,22,0)"/>
<rect x="538" y="36" width="1" height="407" fill="rgb(113,11,0)"/>
<rect x="563" y="36" width="2" height="204" fill="rgb(83,27,0)"/>
<rect x="563" y="240" width="2" height="203" fill="rgb(72,27,0)"/>
<rect x="577" y="36" width="1" height="407" fill="rgb(56,22,0)"/>
<rect x="603" y="36" width="3" height="407" fill="rgb(63,22,0)"/>
<rect x="607" y="36" width="2" height="364" fill="rgb(107,22,0)"/>
<rect x="607" y="400" width="2" height="43" fill="rgb(85,27,0)"/>
<rect x="504" y="290" width="2" height="105" fill="rgb(65,22,0)"/>
<rect class="b" x="136" y="84" width="88" height="9" fill="rgb(85,36,0)"/>
<rect class="b" x="88" y="95" width="48" height="3" fill="rgb(56,22,0)"/>
<rect class="b" x="136" y="95" width="94" height="3" fill="rgb(101,36,0)"/>
<rect class="b" x="136" y="175" width="29" height="6" fill="rgb(98,36,0)"/>
<rect class="b" x="136" y="183" width="88" height="3" fill="rgb(87,36,0)"/>
<rect class="b" x="136" y="187" width="116" height="4" fill="rgb(96,36,0)"/>
<rect class="b" x="138" y="194" width="126" height="2" fill="rgb(87,36,0)"/>
<rect class="b" x="128" y="200" width="138" height="3" fill="rgb(101,36,0)"/>
<rect class="b" x="100" y="200" width="28" height="3" fill="rgb(76,27,0)"/>
<rect class="b" x="140" y="206" width="126" height="3" fill="rgb(96,36,0)"/>
<rect class="b" x="110" y="211" width="10" height="4" fill="rgb(67,18,0)"/>
<rect class="b" x="128" y="211" width="138" height="4" fill="rgb(110,27,0)"/>
<rect class="b" x="108" y="211" width="20" height="4" fill="rgb(78,27,0)"/>
<rect class="b" x="158" y="222" width="102" height="2" fill="rgb(81,36,0)"/>
<rect class="b" x="300" y="222" width="80" height="2" fill="rgb(78,36,0)"/>
<rect class="b" x="86" y="305" width="22" height="6" fill="rgb(63,22,0)"/>
<rect class="b" x="108" y="305" width="22" height="6" fill="rgb(76,27,0)"/>
<rect class="b" x="88" y="325" width="34" height="4" fill="rgb(63,27,0)"/>
<rect class="b" x="107" y="392" width="15" height="7" fill="rgb(67,27,0)"/>
<rect class="b" x="86" y="404" width="36" height="8" fill="rgb(65,27,0)"/>
<rect class="b" x="86" y="422" width="36" height="5" fill="rgb(60,27,0)"/>
<rect class="b" x="130" y="306" width="138" height="4" fill="rgb(110,27,0)"/>
<rect class="b" x="150" y="306" width="54" height="4" fill="rgb(125,27,0)"/>
<rect class="b" x="140" y="313" width="120" height="3" fill="rgb(89,36,0)"/>
<rect class="b" x="140" y="319" width="128" height="6" fill="rgb(103,36,0)"/>
<rect class="b" x="128" y="326" width="140" height="4" fill="rgb(112,27,0)"/>
<rect class="b" x="108" y="326" width="20" height="4" fill="rgb(78,27,0)"/>
<rect class="b" x="144" y="326" width="56" height="4" fill="rgb(125,27,0)"/>
<rect class="b" x="136" y="345" width="110" height="2" fill="rgb(81,36,0)"/>
<rect class="b" x="136" y="370" width="107" height="2" fill="rgb(81,36,0)"/>
<rect class="b" x="140" y="377" width="103" height="2" fill="rgb(85,36,0)"/>
<rect class="b" x="128" y="392" width="52" height="4" fill="rgb(101,36,0)"/>
<rect class="b" x="108" y="392" width="20" height="4" fill="rgb(78,27,0)"/>
<rect class="b" x="180" y="392" width="74" height="4" fill="rgb(83,36,0)"/>
<rect class="b" x="137" y="399" width="117" height="3" fill="rgb(98,36,0)"/>
<rect class="b" x="128" y="403" width="135" height="9" fill="rgb(107,31,0)"/>
<rect class="b" x="108" y="403" width="20" height="9" fill="rgb(81,27,0)"/>
<rect class="b" x="160" y="403" width="40" height="9" fill="rgb(123,27,0)"/>
<rect class="b" x="263" y="406" width="86" height="6" fill="rgb(94,36,0)"/>
<rect class="b" x="137" y="424" width="104" height="6" fill="rgb(107,31,0)"/>
<rect class="b" x="137" y="431" width="104" height="2" fill="rgb(85,36,0)"/>
<rect x="288.5" y="36" width="3.5" height="2" fill="rgb(153,25,0)"/>
<rect x="424" y="36" width="3" height="2" fill="rgb(107,22,0)"/>
<rect x="445" y="36" width="3" height="2" fill="rgb(128,22,0)"/>
<rect x="288.5" y="46" width="3.5" height="2" fill="rgb(153,25,0)"/>
<rect x="424" y="46" width="3" height="2" fill="rgb(107,22,0)"/>
<rect x="445" y="46" width="3" height="2" fill="rgb(128,22,0)"/>
<rect x="288.5" y="54" width="3.5" height="2" fill="rgb(153,25,0)"/>
<rect x="424" y="54" width="3" height="2" fill="rgb(107,22,0)"/>
<rect x="445" y="54" width="3" height="2" fill="rgb(128,22,0)"/>
<rect x="288.5" y="64" width="3.5" height="2" fill="rgb(153,25,0)"/>
<rect x="424" y="64" width="3" height="2" fill="rgb(107,22,0)"/>
<rect x="445" y="64" width="3" height="2" fill="rgb(128,22,0)"/>
<rect x="288.5" y="72" width="3.5" height="2" fill="rgb(153,25,0)"/>
<rect x="424" y="72" width="3" height="2" fill="rgb(107,22,0)"/>
<rect x="445" y="72" width="3" height="2" fill="rgb(128,22,0)"/>
<rect x="288.5" y="80" width="3.5" height="2" fill="rgb(153,25,0)"/>
<rect x="424" y="80" width="3" height="2" fill="rgb(107,22,0)"/>
<rect x="445" y="80" width="3" height="2" fill="rgb(128,22,0)"/>
<rect x="288.5" y="90" width="3.5" height="2" fill="rgb(153,25,0)"/>
<rect x="424" y="90" width="3" height="2" fill="rgb(107,22,0)"/>
<rect x="445" y="90" width="3" height="2" fill="rgb(128,22,0)"/>
<rect x="288.5" y="98" width="3.5" height="2" fill="rgb(153,25,0)"/>
<rect x="424" y="98" width="3" height="2" fill="rgb(107,22,0)"/>
<rect x="445" y="98" width="3" height="2" fill="rgb(128,22,0)"/>
<rect x="288.5" y="108" width="3.5" height="2" fill="rgb(153,25,0)"/>
<rect x="424" y="108" width="3" height="2" fill="rgb(107,22,0)"/>
<rect x="445" y="108" width="3" height="2" fill="rgb(128,22,0)"/>
<rect x="288.5" y="116" width="3.5" height="2" fill="rgb(153,25,0)"/>
<rect x="424" y="116" width="3" height="2" fill="rgb(107,22,0)"/>
<rect x="445" y="116" width="3" height="2" fill="rgb(128,22,0)"/>
<rect x="288.5" y="126" width="3.5" height="2" fill="rgb(153,25,0)"/>
<rect x="424" y="126" width="3" height="2" fill="rgb(107,22,0)"/>
<rect x="445" y="126" width="3" height="2" fill="rgb(128,22,0)"/>
<rect x="288.5" y="134" width="3.5" height="2" fill="rgb(153,25,0)"/>
<rect x="424" y="134" width="3" height="2" fill="rgb(107,22,0)"/>
<rect x="445" y="134" width="3" height="2" fill="rgb(128,22,0)"/>
<rect x="288.5" y="144" width="3.5" height="2" fill="rgb(153,25,0)"/>
<rect x="424" y="144" width="3" height="2" fill="rgb(107,22,0)"/>
<rect x="445" y="144" width="3" height="2" fill="rgb(128,22,0)"/>
<rect x="288.5" y="152" width="3.5" height="2" fill="rgb(153,25,0)"/>
<rect x="424" y="152" width="3" height="2" fill="rgb(107,22,0)"/>
<rect x="445" y="152" width="3" height="2" fill="rgb(128,22,0)"/>
<rect x="288.5" y="162" width="3.5" height="2" fill="rgb(153,25,0)"/>
<rect x="424" y="162" width="3" height="2" fill="rgb(107,22,0)"/>
<rect x="445" y="162" width="3" height="2" fill="rgb(128,22,0)"/>
<rect x="288.5" y="170" width="3.5" height="2" fill="rgb(153,25,0)"/>
<rect x="424" y="170" width="3" height="2" fill="rgb(107,22,0)"/>
<rect x="445" y="170" width="3" height="2" fill="rgb(128,22,0)"/>
<rect x="288.5" y="178" width="3.5" height="2" fill="rgb(153,25,0)"/>
<rect x="424" y="178" width="3" height="2" fill="rgb(107,22,0)"/>
<rect x="445" y="178" width="3" height="2" fill="rgb(128,22,0)"/>
<rect x="288.5" y="188" width="3.5" height="2" fill="rgb(153,25,0)"/>
<rect x="424" y="188" width="3" height="2" fill="rgb(107,22,0)"/>
<rect x="445" y="188" width="3" height="2" fill="rgb(128,22,0)"/>
<rect x="288.5" y="196" width="3.5" height="2" fill="rgb(153,25,0)"/>
<rect x="424" y="196" width="3" height="2" fill="rgb(107,22,0)"/>
<rect x="445" y="196" width="3" height="2" fill="rgb(128,22,0)"/>
<rect x="288.5" y="206" width="3.5" height="2" fill="rgb(153,25,0)"/>
<rect x="424" y="206" width="3" height="2" fill="rgb(107,22,0)"/>
<rect x="445" y="206" width="3" height="2" fill="rgb(128,22,0)"/>
<rect x="288.5" y="214" width="3.5" height="2" fill="rgb(153,25,0)"/>
<rect x="424" y="214" width="3" height="2" fill="rgb(107,22,0)"/>
<rect x="445" y="214" width="3" height="2" fill="rgb(128,22,0)"/>
<rect x="288.5" y="224" width="3.5" height="2" fill="rgb(153,25,0)"/>
<rect x="424" y="224" width="3" height="2" fill="rgb(107,22,0)"/>
<rect x="445" y="224" width="3" height="2" fill="rgb(128,22,0)"/>
<rect x="288.5" y="232" width="3.5" height="2" fill="rgb(153,25,0)"/>
<rect x="424" y="232" width="3" height="2" fill="rgb(107,22,0)"/>
<rect x="445" y="232" width="3" height="2" fill="rgb(128,22,0)"/>
<rect x="288.5" y="242" width="3.5" height="2" fill="rgb(153,25,0)"/>
<rect x="424" y="242" width="3" height="2" fill="rgb(107,22,0)"/>
<rect x="445" y="242" width="3" height="2" fill="rgb(128,22,0)"/>
<rect x="288.5" y="250" width="3.5" height="2" fill="rgb(153,25,0)"/>
<rect x="424" y="250" width="3" height="2" fill="rgb(107,22,0)"/>
<rect x="445" y="250" width="3" height="2" fill="rgb(128,22,0)"/>
<rect x="288.5" y="260" width="3.5" height="2" fill="rgb(153,25,0)"/>
<rect x="424" y="260" width="3" height="2" fill="rgb(107,22,0)"/>
<rect x="445" y="260" width="3" height="2" fill="rgb(128,22,0)"/>
<rect x="288.5" y="268" width="3.5" height="2" fill="rgb(153,25,0)"/>
<rect x="424" y="268" width="3" height="2" fill="rgb(107,22,0)"/>
<rect x="445" y="268" width="3" height="2" fill="rgb(128,22,0)"/>
<rect x="288.5" y="276" width="3.5" height="2" fill="rgb(153,25,0)"/>
<rect x="424" y="276" width="3" height="2" fill="rgb(107,22,0)"/>
<rect x="445" y="276" width="3" height="2" fill="rgb(128,22,0)"/>
<rect x="288.5" y="286" width="3.5" height="2" fill="rgb(153,25,0)"/>
<rect x="424" y="286" width="3" height="2" fill="rgb(107,22,0)"/>
<rect x="445" y="286" width="3" height="2" fill="rgb(128,22,0)"/>
<rect x="288.5" y="294" width="3.5" height="2" fill="rgb(153,25,0)"/>
<rect x="424" y="294" width="3" height="2" fill="rgb(107,22,0)"/>
<rect x="445" y="294" width="3" height="2" fill="rgb(128,22,0)"/>
<rect x="288.5" y="304" width="3.5" height="2" fill="rgb(153,25,0)"/>
<rect x="424" y="304" width="3" height="2" fill="rgb(107,22,0)"/>
<rect x="445" y="304" width="3" height="2" fill="rgb(128,22,0)"/>
<rect x="288.5" y="312" width="3.5" height="2" fill="rgb(153,25,0)"/>
<rect x="424" y="312" width="3" height="2" fill="rgb(107,22,0)"/>
<rect x="445" y="312" width="3" height="2" fill="rgb(128,22,0)"/>
<rect x="288.5" y="322" width="3.5" height="2" fill="rgb(153,25,0)"/>
<rect x="424" y="322" width="3" height="2" fill="rgb(107,22,0)"/>
<rect x="445" y="322" width="3" height="2" fill="rgb(128,22,0)"/>
<rect x="288.5" y="330" width="3.5" height="2" fill="rgb(153,25,0)"/>
<rect x="424" y="330" width="3" height="2" fill="rgb(107,22,0)"/>
<rect x="445" y="330" width="3" height="2" fill="rgb(128,22,0)"/>
<rect x="288.5" y="340" width="3.5" height="2" fill="rgb(153,25,0)"/>
<rect x="424" y="340" width="3" height="2" fill="rgb(107,22,0)"/>
<rect x="445" y="340" width="3" height="2" fill="rgb(128,22,0)"/>
<rect x="288.5" y="348" width="3.5" height="2" fill="rgb(153,25,0)"/>
<rect x="424" y="348" width="3" height="2" fill="rgb(107,22,0)"/>
<rect x="445" y="348" width="3" height="2" fill="rgb(128,22,0)"/>
<rect x="288.5" y="356" width="3.5" height="2" fill="rgb(153,25,0)"/>
<rect x="424" y="356" width="3" height="2" fill="rgb(107,22,0)"/>
<rect x="445" y="356" width="3" height="2" fill="rgb(128,22,0)"/>
<rect x="288.5" y="366" width="3.5" height="2" fill="rgb(153,25,0)"/>
<rect x="424" y="366" width="3" height="2" fill="rgb(107,22,0)"/>
<rect x="445" y="366" width="3" height="2" fill="rgb(128,22,0)"/>
<rect x="288.5" y="374" width="3.5" height="2" fill="rgb(153,25,0)"/>
<rect x="424" y="374" width="3" height="2" fill="rgb(107,22,0)"/>
<rect x="445" y="374" width="3" height="2" fill="rgb(128,22,0)"/>
<rect x="288.5" y="384" width="3.5" height="2" fill="rgb(153,25,0)"/>
<rect x="424" y="384" width="3" height="2" fill="rgb(107,22,0)"/>
<rect x="445" y="384" width="3" height="2" fill="rgb(128,22,0)"/>
<rect x="288.5" y="392" width="3.5" height="2" fill="rgb(153,25,0)"/>
<rect x="424" y="392" width="3" height="2" fill="rgb(107,22,0)"/>
<rect x="445" y="392" width="3" height="2" fill="rgb(128,22,0)"/>
<rect x="288.5" y="402" width="3.5" height="2" fill="rgb(153,25,0)"/>
<rect x="424" y="402" width="3" height="2" fill="rgb(107,22,0)"/>
<rect x="445" y="402" width="3" height="2" fill="rgb(128,22,0)"/>
<rect x="288.5" y="410" width="3.5" height="2" fill="rgb(153,25,0)"/>
<rect x="424" y="410" width="3" height="2" fill="rgb(107,22,0)"/>
<rect x="445" y="410" width="3" height="2" fill="rgb(128,22,0)"/>
<rect x="288.5" y="420" width="3.5" height="2" fill="rgb(153,25,0)"/>
<rect x="424" y="420" width="3" height="2" fill="rgb(107,22,0)"/>
<rect x="445" y="420" width="3" height="2" fill="rgb(128,22,0)"/>
<rect x="288.5" y="428" width="3.5" height="2" fill="rgb(153,25,0)"/>
<rect x="424" y="428" width="3" height="2" fill="rgb(107,22,0)"/>
<rect x="445" y="428" width="3" height="2" fill="rgb(128,22,0)"/>
<rect x="288.5" y="436" width="3.5" height="2" fill="rgb(153,25,0)"/>
<rect x="424" y="436" width="3" height="2" fill="rgb(107,22,0)"/>
<rect x="445" y="436" width="3" height="2" fill="rgb(128,22,0)"/>
<rect x="183.5" y="36" width="2.5" height="4" fill="rgb(143,31,0)"/>
<rect x="183.5" y="46" width="2.5" height="6" fill="rgb(143,31,0)"/>
<rect x="183.5" y="56" width="2.5" height="2" fill="rgb(143,31,0)"/>
<rect x="183.5" y="72" width="2.5" height="2" fill="rgb(143,31,0)"/>
<rect x="183.5" y="82" width="2.5" height="8" fill="rgb(143,31,0)"/>
<rect x="183.5" y="94" width="2.5" height="8" fill="rgb(143,31,0)"/>
<rect x="183.5" y="108" width="2.5" height="2" fill="rgb(143,31,0)"/>
<rect x="183.5" y="114" width="2.5" height="6" fill="rgb(143,31,0)"/>
<rect x="183.5" y="130" width="2.5" height="2" fill="rgb(143,31,0)"/>
<rect x="183.5" y="138" width="2.5" height="2" fill="rgb(143,31,0)"/>
<rect x="183.5" y="154" width="2.5" height="6" fill="rgb(143,31,0)"/>
<rect x="183.5" y="164" width="2.5" height="8" fill="rgb(143,31,0)"/>
<rect x="183.5" y="176" width="2.5" height="4" fill="rgb(143,31,0)"/>
<rect x="183.5" y="194" width="2.5" height="2" fill="rgb(143,31,0)"/>
<rect x="183.5" y="210" width="2.5" height="8" fill="rgb(143,31,0)"/>
<rect x="183.5" y="228" width="2.5" height="2" fill="rgb(143,31,0)"/>
<rect x="183.5" y="236" width="2.5" height="2" fill="rgb(143,31,0)"/>
<rect x="183.5" y="252" width="2.5" height="4" fill="rgb(143,31,0)"/>
<rect x="183.5" y="264" width="2.5" height="6" fill="rgb(143,31,0)"/>
<rect x="183.5" y="276" width="2.5" height="8" fill="rgb(143,31,0)"/>
<rect x="183.5" y="288" width="2.5" height="8" fill="rgb(143,31,0)"/>
<rect x="183.5" y="304" width="2.5" height="8" fill="rgb(143,31,0)"/>
<rect x="183.5" y="318" width="2.5" height="2" fill="rgb(143,31,0)"/>
<rect x="183.5" y="334" width="2.5" height="8" fill="rgb(143,31,0)"/>
<rect x="183.5" y="348" width="2.5" height="4" fill="rgb(143,31,0)"/>
<rect x="183.5" y="356" width="2.5" height="8" fill="rgb(143,31,0)"/>
<rect x="183.5" y="368" width="2.5" height="8" fill="rgb(143,31,0)"/>
<rect x="183.5" y="380" width="2.5" height="8" fill="rgb(143,31,0)"/>
<rect x="183.5" y="394" width="2.5" height="6" fill="rgb(143,31,0)"/>
<rect x="183.5" y="414" width="2.5" height="6" fill="rgb(143,31,0)"/>
<rect x="183.5" y="428" width="2.5" height="6" fill="rgb(143,31,0)"/>
<rect class="b" x="165" y="266" width="75" height="2" fill="rgb(92,31,0)"/>
<rect class="b" x="165" y="296" width="50" height="2" fill="rgb(83,31,0)"/>
<rect class="b" x="158" y="298" width="104" height="2" fill="rgb(83,31,0)"/>
<rect class="b" x="158" y="84" width="67" height="2" fill="rgb(83,31,0)"/>
<rect class="b" x="165" y="82" width="97" height="2" fill="rgb(78,31,0)"/>
<rect class="b" x="158" y="340" width="82" height="2" fill="rgb(83,31,0)"/>
<rect class="b" x="137" y="354" width="113" height="2" fill="rgb(78,31,0)"/>
<rect class="b" x="137" y="66" width="78" height="2" fill="rgb(83,31,0)"/>
<rect class="b" x="137" y="342" width="103" height="2" fill="rgb(87,31,0)"/>
<rect class="b" x="165" y="260" width="50" height="2" fill="rgb(83,31,0)"/>
<rect class="b" x="150" y="362" width="90" height="2" fill="rgb(78,31,0)"/>
<rect class="b" x="137" y="374" width="103" height="2" fill="rgb(87,31,0)"/>
<rect class="b" x="165" y="244" width="35" height="2" fill="rgb(87,31,0)"/>
<rect class="b" x="140" y="196" width="110" height="2" fill="rgb(87,31,0)"/>
<rect class="b" x="137" y="50" width="113" height="2" fill="rgb(78,31,0)"/>
<rect class="b" x="137" y="240" width="88" height="2" fill="rgb(92,31,0)"/>
<rect class="b" x="137" y="70" width="125" height="2" fill="rgb(78,31,0)"/>
<rect class="b" x="140" y="144" width="60" height="2" fill="rgb(92,31,0)"/>
<rect class="b" x="158" y="228" width="82" height="2" fill="rgb(78,31,0)"/>
<rect class="b" x="140" y="324" width="122" height="2" fill="rgb(87,31,0)"/>
<rect class="b" x="137" y="208" width="88" height="2" fill="rgb(87,31,0)"/>
<rect class="b" x="158" y="42" width="42" height="2" fill="rgb(83,31,0)"/>
<rect class="b" x="137" y="162" width="63" height="2" fill="rgb(78,31,0)"/>
<rect class="b" x="158" y="274" width="57" height="2" fill="rgb(83,31,0)"/>
<rect class="b" x="165" y="264" width="50" height="2" fill="rgb(83,31,0)"/>
<rect class="b" x="158" y="250" width="42" height="2" fill="rgb(92,31,0)"/>
<rect class="b" x="140" y="250" width="60" height="2" fill="rgb(87,31,0)"/>
<rect class="b" x="150" y="338" width="50" height="2" fill="rgb(83,31,0)"/>
<rect class="b" x="158" y="130" width="92" height="2" fill="rgb(78,31,0)"/>
<rect class="b" x="140" y="56" width="75" height="2" fill="rgb(92,31,0)"/>
<rect class="b" x="137" y="168" width="113" height="2" fill="rgb(87,31,0)"/>
<rect class="b" x="158" y="186" width="42" height="2" fill="rgb(78,31,0)"/>
<rect class="b" x="140" y="82" width="110" height="2" fill="rgb(83,31,0)"/>
<rect class="b" x="165" y="42" width="60" height="2" fill="rgb(87,31,0)"/>
<rect class="b" x="158" y="354" width="57" height="2" fill="rgb(92,31,0)"/>
<rect class="b" x="140" y="330" width="100" height="2" fill="rgb(83,31,0)"/>
<rect class="b" x="140" y="356" width="85" height="2" fill="rgb(83,31,0)"/>
<rect class="b" x="140" y="348" width="122" height="2" fill="rgb(83,31,0)"/>
<rect class="b" x="165" y="116" width="50" height="2" fill="rgb(92,31,0)"/>
<rect class="b" x="165" y="282" width="35" height="2" fill="rgb(92,31,0)"/>
<rect class="b" x="137" y="60" width="63" height="2" fill="rgb(78,31,0)"/>
<rect class="b" x="150" y="298" width="65" height="2" fill="rgb(92,31,0)"/>
<rect class="b" x="158" y="166" width="92" height="2" fill="rgb(92,31,0)"/>
<rect class="b" x="165" y="186" width="50" height="2" fill="rgb(78,31,0)"/>
<rect class="b" x="140" y="100" width="100" height="2" fill="rgb(78,31,0)"/>
<rect class="b" x="140" y="178" width="75" height="2" fill="rgb(78,31,0)"/>
<rect class="b" x="150" y="70" width="90" height="2" fill="rgb(92,31,0)"/>
<rect class="b" x="137" y="162" width="63" height="2" fill="rgb(83,31,0)"/>
<rect class="b" x="150" y="180" width="100" height="2" fill="rgb(83,31,0)"/>
<rect class="b" x="150" y="82" width="65" height="2" fill="rgb(92,31,0)"/>
<rect class="b" x="165" y="204" width="85" height="2" fill="rgb(83,31,0)"/>
<rect class="b" x="137" y="338" width="63" height="2" fill="rgb(92,31,0)"/>
<rect class="b" x="150" y="218" width="50" height="2" fill="rgb(78,31,0)"/>
<rect class="b" x="137" y="342" width="103" height="2" fill="rgb(78,31,0)"/>
<rect class="b" x="150" y="410" width="75" height="2" fill="rgb(83,31,0)"/>
<rect class="b" x="137" y="72" width="103" height="2" fill="rgb(87,31,0)"/>
<rect class="b" x="137" y="412" width="125" height="2" fill="rgb(83,31,0)"/>
<rect class="b" x="150" y="210" width="50" height="2" fill="rgb(92,31,0)"/>
<rect class="b" x="158" y="74" width="42" height="2" fill="rgb(92,31,0)"/>
<rect class="b" x="137" y="328" width="113" height="2" fill="rgb(92,31,0)"/>
<rect class="b" x="165" y="230" width="35" height="2" fill="rgb(78,31,0)"/>
<rect class="b" x="137" y="76" width="125" height="2" fill="rgb(78,31,0)"/>
<rect class="b" x="158" y="166" width="104" height="2" fill="rgb(87,31,0)"/>
<rect class="b" x="165" y="234" width="75" height="2" fill="rgb(92,31,0)"/>
<rect class="b" x="165" y="272" width="35" height="2" fill="rgb(78,31,0)"/>
<rect class="b" x="165" y="194" width="35" height="2" fill="rgb(92,31,0)"/>
<rect class="b" x="140" y="46" width="122" height="2" fill="rgb(78,31,0)"/>
<rect class="b" x="165" y="290" width="97" height="2" fill="rgb(92,31,0)"/>
<rect class="b" x="137" y="166" width="88" height="2" fill="rgb(87,31,0)"/>
<rect class="b" x="165" y="108" width="50" height="2" fill="rgb(83,31,0)"/>
<rect class="b" x="272" y="420" width="73" height="2" fill="rgb(87,27,0)"/>
<rect class="b" x="272" y="262" width="73" height="2" fill="rgb(78,27,0)"/>
<rect class="b" x="272" y="202" width="73" height="2" fill="rgb(87,27,0)"/>
<rect class="b" x="272" y="164" width="48" height="2" fill="rgb(87,27,0)"/>
<rect class="b" x="272" y="256" width="48" height="2" fill="rgb(78,27,0)"/>
<rect class="b" x="272" y="232" width="48" height="2" fill="rgb(87,27,0)"/>
<rect class="b" x="272" y="198" width="48" height="2" fill="rgb(78,27,0)"/>
<rect class="b" x="272" y="104" width="73" height="2" fill="rgb(83,27,0)"/>
<rect class="b" x="272" y="56" width="84" height="2" fill="rgb(78,27,0)"/>
<rect class="b" x="272" y="176" width="48" height="2" fill="rgb(78,27,0)"/>
<rect class="b" x="272" y="266" width="73" height="2" fill="rgb(83,27,0)"/>
<rect class="b" x="272" y="144" width="73" height="2" fill="rgb(83,27,0)"/>
<rect class="b" x="272" y="356" width="84" height="2" fill="rgb(83,27,0)"/>
<rect class="b" x="272" y="380" width="73" height="2" fill="rgb(87,27,0)"/>
<rect class="b" x="272" y="354" width="73" height="2" fill="rgb(83,27,0)"/>
<rect class="b" x="272" y="74" width="48" height="2" fill="rgb(83,27,0)"/>
<rect class="b" x="272" y="346" width="48" height="2" fill="rgb(87,27,0)"/>
<rect class="b" x="272" y="398" width="73" height="2" fill="rgb(87,27,0)"/>
<rect class="b" x="272" y="216" width="73" height="2" fill="rgb(87,27,0)"/>
<rect class="b" x="272" y="440" width="84" height="2" fill="rgb(78,27,0)"/>
<rect class="b" x="272" y="364" width="48" height="2" fill="rgb(83,27,0)"/>
<rect class="b" x="272" y="268" width="48" height="2" fill="rgb(78,27,0)"/>
<rect class="b" x="272" y="428" width="73" height="2" fill="rgb(78,27,0)"/>
<rect class="b" x="272" y="434" width="48" height="2" fill="rgb(78,27,0)"/>
<rect class="b" x="272" y="358" width="48" height="2" fill="rgb(83,27,0)"/>
<rect x="673" y="44" width="2" height="164" fill="rgb(42,22,0)"/>
<rect x="694" y="36" width="1.5" height="407" fill="rgb(40,22,0)"/>
<rect x="776" y="36" width="14" height="407" fill="rgb(31,31,0)"/>
</g>
</svg>
<div id="fr"></div>
<div id="ttl"><span style="left:391.9px;letter-spacing:0.98px">15/10/2025</span><span style="left:492.6px;letter-spacing:1.17px">02:30</span><span style="left:546.1px;letter-spacing:0.88px">local</span><span style="left:590.7px;letter-spacing:1.47px">time</span><span style="left:633px;letter-spacing:0px">-</span><span style="left:645px;letter-spacing:-0.14px">KIWI_2</span><span style="left:706.1px;letter-spacing:0px">-</span><span style="left:717.3px;letter-spacing:0.73px">Skywire</span><span style="left:787.6px;letter-spacing:0.6px">loop</span><span style="left:829px;letter-spacing:0.03px">[SNR:</span><span style="left:880.4px;letter-spacing:1.6px">30</span><span style="left:906.1px;letter-spacing:2.1px">dB]</span></div>
<div class="tk" style="left:18.9px"></div><div class="tl" style="left:-0.0px">0</div>
<div class="tk" style="left:61.9px"></div><div class="tl" style="left:43.0px">1</div>
<div class="tk" style="left:104.9px"></div><div class="tl" style="left:86.0px">2</div>
<div class="tk" style="left:147.9px"></div><div class="tl" style="left:129.0px">3</div>
<div class="tk" style="left:190.9px"></div><div class="tl" style="left:172.0px">4</div>
<div class="tk" style="left:233.9px"></div><div class="tl" style="left:215.0px">5</div>
<div class="tk" style="left:276.9px"></div><div class="tl" style="left:258.0px">6</div>
<div class="tk" style="left:319.9px"></div><div class="tl" style="left:301.0px">7</div>
<div class="tk" style="left:362.9px"></div><div class="tl" style="left:344.0px">8</div>
<div class="tk" style="left:405.9px"></div><div class="tl" style="left:387.0px">9</div>
<div class="tk" style="left:448.9px"></div><div class="tl t2" style="left:429.8px">10</div>
<div class="tk" style="left:491.9px"></div><div class="tl t2" style="left:472.8px">11</div>
<div class="tk" style="left:534.9px"></div><div class="tl t2" style="left:515.8px">12</div>
<div class="tk" style="left:577.9px"></div><div class="tl t2" style="left:558.8px">13</div>
<div class="tk" style="left:620.9px"></div><div class="tl t2" style="left:601.8px">14</div>
<div class="tk" style="left:663.9px"></div><div class="tl t2" style="left:644.8px">15</div>
<div class="tk" style="left:706.9px"></div><div class="tl t2" style="left:687.8px">16</div>
<div class="tk" style="left:749.9px"></div><div class="tl t2" style="left:730.8px">17</div>
<div class="tk" style="left:792.9px"></div><div class="tl t2" style="left:773.8px">18</div>
<div class="tk" style="left:835.9px"></div><div class="tl t2" style="left:816.8px">19</div>
<div class="tk" style="left:878.9px"></div><div class="tl t2" style="left:859.8px">20</div>
<div class="tk" style="left:921.9px"></div><div class="tl t2" style="left:902.8px">21</div>
<div class="tk" style="left:964.9px"></div><div class="tl t2" style="left:945.8px">22</div>
<div class="tk" style="left:1007.9px"></div><div class="tl t2" style="left:988.8px">23</div>
<div class="tk" style="left:1050.9px"></div><div class="tl t2" style="left:1031.8px">24</div>
<div class="tk" style="left:1093.9px"></div><div class="tl t2" style="left:1074.8px">25</div>
<div class="tk" style="left:1136.9px"></div><div class="tl t2" style="left:1117.8px">26</div>
<div class="tk" style="left:1179.9px"></div><div class="tl t2" style="left:1160.8px">27</div>
<div class="tk" style="left:1222.9px"></div><div class="tl t2" style="left:1203.8px">28</div>
<div class="tk" style="left:1265.9px"></div><div class="tl t2" style="left:1246.8px">29</div>
<div id="xl">MHz</div>
<div id="cb"></div>
<div id="cu">dBm</div>
<div class="ck" style="top:112px"></div><div class="cl" style="top:105px">−20</div>
<div class="ck" style="top:197px"></div><div class="cl" style="top:190px">−40</div>
<div class="ck" style="top:283px"></div><div class="cl" style="top:276px">−60</div>
<div class="ck" style="top:369px"></div><div class="cl" style="top:362px">−80</div>
</body></html>
